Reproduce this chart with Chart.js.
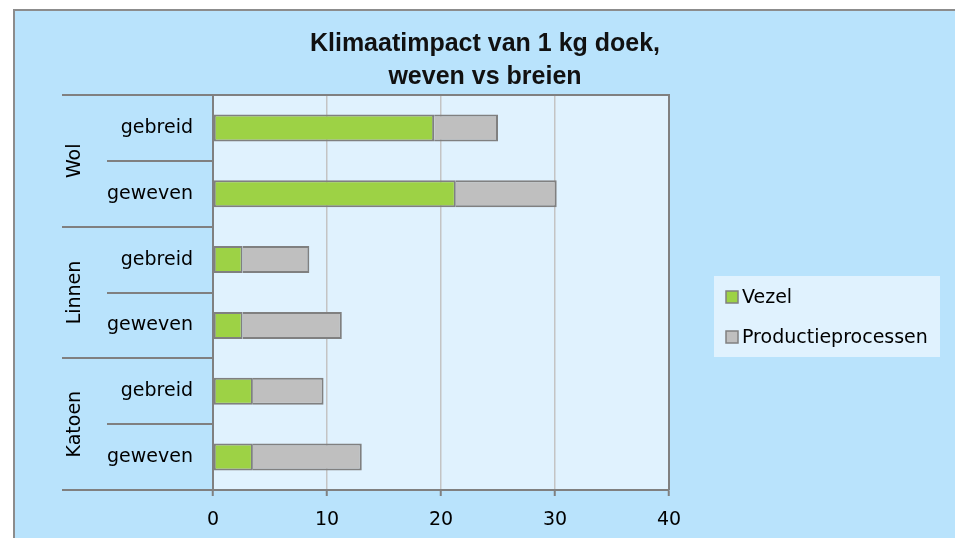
<!DOCTYPE html>
<html><head><meta charset="utf-8">
<script src="https://cdn.jsdelivr.net/npm/chart.js@4.4.0/dist/chart.umd.min.js"></script>
<style>
html,body{margin:0;padding:0;background:#fff;overflow:hidden;}
#frame{position:absolute;left:13px;top:9px;width:960px;height:540px;border-left:2px solid #8c8c8c;border-top:2px solid #8c8c8c;background:#b9e3fc;}
#wrap{position:absolute;left:0;top:0;width:940px;height:527px;}
</style></head><body>
<div id="frame"><div id="wrap"><canvas id="c"></canvas></div></div>
<script>
const groups = ['Wol','Linnen','Katoen'];
const categories = ['gebreid','geweven','gebreid','geweven','gebreid','geweven'];
const seriesNames = ['Vezel','Productieprocessen'];
const vezel = [19.4, 21.3, 2.6, 2.6, 3.5, 3.5];
const productie = [5.6, 8.85, 5.85, 8.7, 6.2, 9.55];
const xTicks = [0, 10, 20, 30, 40];
const titleLines = ['Klimaatimpact van 1 kg doek,', 'weven vs breien'];

const FONT = '"DejaVu Sans", sans-serif';
const FS = 19;
const colors = ['#9dd245', '#bfbfbf'];
const edge = '#808080';

const deco = {
  id: 'deco',
  beforeDraw(chart) {
    const {ctx, chartArea: a} = chart;
    ctx.save();
    ctx.fillStyle = '#e0f2fe';
    ctx.fillRect(a.left, a.top, a.right - a.left, a.bottom - a.top);
    ctx.restore();
  },
  afterDraw(chart) {
    const {ctx, chartArea: a, scales: {y}} = chart;
    ctx.save();
    ctx.strokeStyle = edge; ctx.lineWidth = 2;
    ctx.beginPath();
    ctx.moveTo(a.left, a.top); ctx.lineTo(a.right, a.top); ctx.lineTo(a.right, a.bottom);
    ctx.stroke();
    const n = categories.length, per = n / groups.length;
    for (let i = 0; i <= n; i++) {
      const yy = Math.round(y.getPixelForValue(i - 0.5));
      const x0 = (i % per === 0) ? a.left - 151 : a.left - 106;
      ctx.beginPath(); ctx.moveTo(x0, yy); ctx.lineTo(a.left, yy); ctx.stroke();
    }
    ctx.fillStyle = '#000';
    ctx.font = FS + 'px ' + FONT;
    ctx.textAlign = 'center'; ctx.textBaseline = 'middle';
    groups.forEach((g, gi) => {
      const yc = (y.getPixelForValue(gi * per - 0.5) + y.getPixelForValue((gi + 1) * per - 0.5)) / 2;
      ctx.save();
      ctx.translate(a.left - 138, yc);
      ctx.rotate(-Math.PI / 2);
      ctx.fillText(g, 0, 0);
      ctx.restore();
    });
    // legend
    const lx = a.right + 45, ly = 265, lw = 226, lh = 81;
    ctx.fillStyle = '#e0f2fe';
    ctx.fillRect(lx, ly, lw, lh);
    chart.data.datasets.forEach((ds, i) => {
      const cy = ly + 21 + i * 40;
      ctx.fillStyle = ds.backgroundColor;
      ctx.fillRect(lx + 12, cy - 6, 12, 12);
      ctx.lineWidth = 1.5; ctx.strokeStyle = edge;
      ctx.strokeRect(lx + 12, cy - 6, 12, 12);
      ctx.fillStyle = '#000';
      ctx.textAlign = 'left';
      ctx.fillText(ds.label, lx + 28, cy + 1);
    });
    ctx.restore();
  }
};

new Chart(document.getElementById('c'), {
  type: 'bar',
  data: {
    labels: categories,
    datasets: [
      {label: seriesNames[0], data: vezel, backgroundColor: colors[0], borderColor: edge, borderWidth: 2, borderSkipped: false, barPercentage: 0.41, categoryPercentage: 1},
      {label: seriesNames[1], data: productie, backgroundColor: colors[1], borderColor: edge, borderWidth: 2, borderSkipped: 'start', barPercentage: 0.41, categoryPercentage: 1}
    ]
  },
  options: {
    indexAxis: 'y',
    responsive: true,
    maintainAspectRatio: false,
    animation: false,
    layout: {padding: 0},
    plugins: {
      legend: {display: false},
      tooltip: {enabled: false},
      title: {display: true, text: titleLines, color: '#111', font: {family: '"Liberation Sans", Arial, sans-serif', size: 25, weight: 'bold', lineHeight: 1.3}, padding: {top: 17, bottom: 2}}
    },
    scales: {
      x: {
        stacked: true, min: 0, max: 40,
        afterBuildTicks(s) { s.ticks = xTicks.map(v => ({value: v})); },
        afterFit(s) { s.height = 48; },
        grid: {color: '#c4c4c4', lineWidth: 1.5, tickColor: edge, tickLength: 6, tickWidth: 2},
        border: {display: true, color: edge, width: 2},
        ticks: {color: '#000', font: {family: FONT, size: FS}, padding: 13}
      },
      y: {
        stacked: true,
        afterFit(s) { s.width = 198; },
        grid: {display: false, drawTicks: false},
        border: {display: true, color: edge, width: 2},
        ticks: {color: '#000', font: {family: FONT, size: FS}, padding: 20}
      },
      spacer: {
        type: 'linear', position: 'right', display: true,
        grid: {display: false}, border: {display: false}, ticks: {display: false},
        afterFit(s) { s.width = 286; }
      }
    }
  },
  plugins: [deco]
});
</script>
</body></html>
